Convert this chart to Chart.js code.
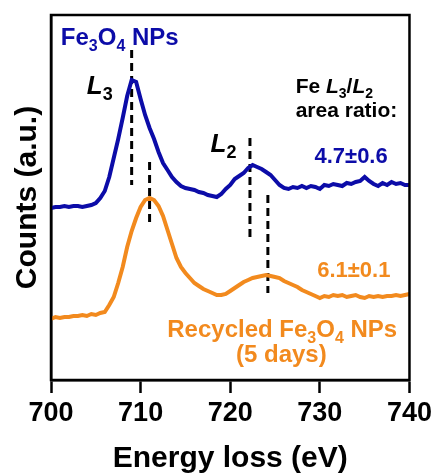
<!DOCTYPE html>
<html>
<head>
<meta charset="utf-8">
<script src="https://cdn.jsdelivr.net/npm/chart.js@4.4.1/dist/chart.umd.min.js"></script>
<style>
  html, body { margin: 0; padding: 0; background: #fff; }
  #wrap { width: 436px; height: 474px; }
</style>
</head>
<body>
<div id="wrap"><canvas id="eelsChart"></canvas></div>
<script>
// Energy loss axis (eV), 0.5 eV steps
const energyLoss = [
  700, 700.5, 701, 701.5, 702, 702.5, 703, 703.5, 704, 704.5,
  705, 705.5, 706, 706.5, 707, 707.5, 708, 708.5, 709, 709.5,
  710, 710.5, 711, 711.5, 712, 712.5, 713, 713.5, 714, 714.5,
  715, 715.5, 716, 716.5, 717, 717.5, 718, 718.5, 719, 719.5,
  720, 720.5, 721, 721.5, 722, 722.5, 723, 723.5, 724, 724.5,
  725, 725.5, 726, 726.5, 727, 727.5, 728, 728.5, 729, 729.5,
  730, 730.5, 731, 731.5, 732, 732.5, 733, 733.5, 734, 734.5,
  735, 735.5, 736, 736.5, 737, 737.5, 738, 738.5, 739, 739.5, 740
];

// Fe3O4 NPs (offset up)
const countsFresh = [
  172, 173, 173, 174, 173, 174, 174, 173, 174, 175,
  177, 182, 189, 203, 222, 241, 262, 284, 300, 298,
  281, 265, 252, 241, 228, 217, 210, 203, 198, 194,
  192, 191, 190, 188, 187, 185, 184, 183, 186, 191,
  195, 201, 204, 207, 212, 215, 213, 211, 208, 205,
  200, 195, 192, 191, 193, 192, 194, 192, 194, 193,
  191, 195, 194, 196, 195, 194, 197, 196, 198, 199,
  203, 199, 196, 194, 197, 195, 198, 196, 197, 195, 195
];

// Recycled Fe3O4 NPs (5 days)
const countsRecycled = [
  61, 63, 62, 63, 63, 64, 64, 65, 64, 66,
  65, 67, 68, 75, 83, 97, 113, 133, 149, 162,
  173, 180, 182, 180, 174, 164, 150, 136, 122, 113,
  107, 102, 97, 94, 91, 89, 87, 85, 85, 86,
  89, 92, 95, 98, 100, 102, 103, 104, 105, 104,
  103, 102, 99, 97, 95, 93, 90, 88, 86, 84,
  82, 84, 83, 85, 84, 85, 83, 84, 85, 83,
  82, 84, 83, 84, 83, 84, 84, 85, 84, 85, 86
];

// L3 / L2 edge markers (dashed)
const markerEnergies = [709.0, 711.0, 722.2, 724.2];
const markerTops     = [330, 218, 242, 185];
const markerBottoms  = [195, 157, 143, 87];

const xTicks = [700, 710, 720, 730, 740];

const BLUE = '#0c0ca8';
const ORANGE = '#f28a1e';
const FONT = "'Liberation Sans', Arial, sans-serif";

function toPoints(xs, ys) {
  return xs.map((x, i) => ({ x: x, y: ys[i] }));
}

// draw a run of text pieces (subscripts / italics) starting at x
function drawRich(ctx, parts, x, y, size, weight, color, align) {
  const pieces = parts.map(p => {
    const sz = p.sub ? Math.round(size * 0.68) : size;
    const font = (p.it ? 'italic ' : '') + weight + ' ' + sz + 'px ' + FONT;
    ctx.font = font;
    return { t: p.t, font: font, w: ctx.measureText(p.t).width, dy: p.sub ? size * 0.24 : 0 };
  });
  const total = pieces.reduce((s, p) => s + p.w, 0);
  let cx = align === 'center' ? x - total / 2 : x;
  ctx.fillStyle = color;
  ctx.textAlign = 'left';
  ctx.textBaseline = 'alphabetic';
  pieces.forEach(p => {
    ctx.font = p.font;
    ctx.fillText(p.t, cx, y + p.dy);
    cx += p.w;
  });
}

const annotations = [
  { at: [701.1, 335], size: 24, weight: 'bold', color: BLUE,
    parts: [{t: 'Fe'}, {t: '3', sub: true}, {t: 'O'}, {t: '4', sub: true}, {t: ' NPs'}] },
  { at: [704.0, 286], size: 26, weight: 'bold', color: '#000',
    parts: [{t: 'L', it: true}, {t: '3', sub: true}] },
  { at: [717.8, 228], size: 26, weight: 'bold', color: '#000',
    parts: [{t: 'L', it: true}, {t: '2', sub: true}] },
  { at: [727.3, 287], size: 21, weight: 'bold', color: '#000',
    parts: [{t: 'Fe '}, {t: 'L', it: true}, {t: '3', sub: true}, {t: '/'}, {t: 'L', it: true}, {t: '2', sub: true}] },
  { at: [727.3, 263], size: 21, weight: 'bold', color: '#000',
    parts: [{t: 'area ratio:'}] },
  { at: [729.4, 217], size: 22, weight: 'bold', color: BLUE,
    parts: [{t: '4.7\u00b10.6'}] },
  { at: [729.7, 103], size: 22, weight: 'bold', color: ORANGE,
    parts: [{t: '6.1\u00b10.1'}] },
  { at: [725.8, 43], size: 24, weight: 'bold', color: ORANGE, align: 'center',
    parts: [{t: 'Recycled Fe'}, {t: '3', sub: true}, {t: 'O'}, {t: '4', sub: true}, {t: ' NPs'}] },
  { at: [725.7, 18], size: 24, weight: 'bold', color: ORANGE, align: 'center',
    parts: [{t: '(5 days)'}] }
];

const framePlugin = {
  id: 'frame',
  afterDatasetsDraw(chart) {
    const { ctx, chartArea: a, scales } = chart;
    ctx.save();
    ctx.strokeStyle = '#000';
    ctx.lineWidth = 2.5;
    ctx.strokeRect(a.left, a.top, a.right - a.left, a.bottom - a.top);
    annotations.forEach(n => {
      const px = scales.x.getPixelForValue(n.at[0]);
      const py = scales.y.getPixelForValue(n.at[1]);
      drawRich(ctx, n.parts, px, py, n.size, n.weight, n.color, n.align);
    });
    ctx.restore();
  }
};

const datasets = [
  { data: toPoints(energyLoss, countsFresh), borderColor: BLUE, borderWidth: 4 },
  { data: toPoints(energyLoss, countsRecycled), borderColor: ORANGE, borderWidth: 4 }
];
markerEnergies.forEach((e, i) => {
  datasets.push({
    data: [{ x: e, y: markerTops[i] }, { x: e, y: markerBottoms[i] }],
    borderColor: '#000', borderWidth: 3, borderDash: [8, 5]
  });
});

new Chart(document.getElementById('eelsChart'), {
  type: 'line',
  data: { datasets: datasets },
  options: {
    responsive: true,
    maintainAspectRatio: false,
    animation: false,
    layout: { padding: { top: 15, right: 24, left: 0, bottom: 0 } },
    elements: { point: { radius: 0 }, line: { tension: 0 } },
    plugins: { legend: { display: false }, tooltip: { enabled: false } },
    scales: {
      x: {
        type: 'linear', min: 700, max: 740,
        afterBuildTicks: s => { s.ticks = xTicks.map(v => ({ value: v })); },
        afterFit: s => { s.height = 94; },
        grid: { display: true, drawOnChartArea: false, drawTicks: true, tickLength: 13, tickWidth: 2.5, tickColor: '#000' },
        border: { display: true, color: '#000', width: 2.5 },
        ticks: { color: '#000', padding: 4, maxRotation: 0, font: { family: FONT, size: 27, weight: 'bold' } },
        title: { display: true, text: 'Energy loss (eV)', color: '#000', padding: { top: 0, bottom: 0 },
                 font: { family: FONT, size: 30, weight: 'bold', lineHeight: 1 } }
      },
      y: {
        min: 0, max: 365,
        afterFit: s => { s.width = 51; },
        grid: { display: false },
        border: { display: true, color: '#000', width: 2.5 },
        ticks: { display: false },
        title: { display: true, text: 'Counts (a.u.)', color: '#000', padding: { top: 10, bottom: 0 },
                 font: { family: FONT, size: 30, weight: 'bold', lineHeight: 1.2 } }
      }
    }
  },
  plugins: [framePlugin]
});
</script>
</body>
</html>
